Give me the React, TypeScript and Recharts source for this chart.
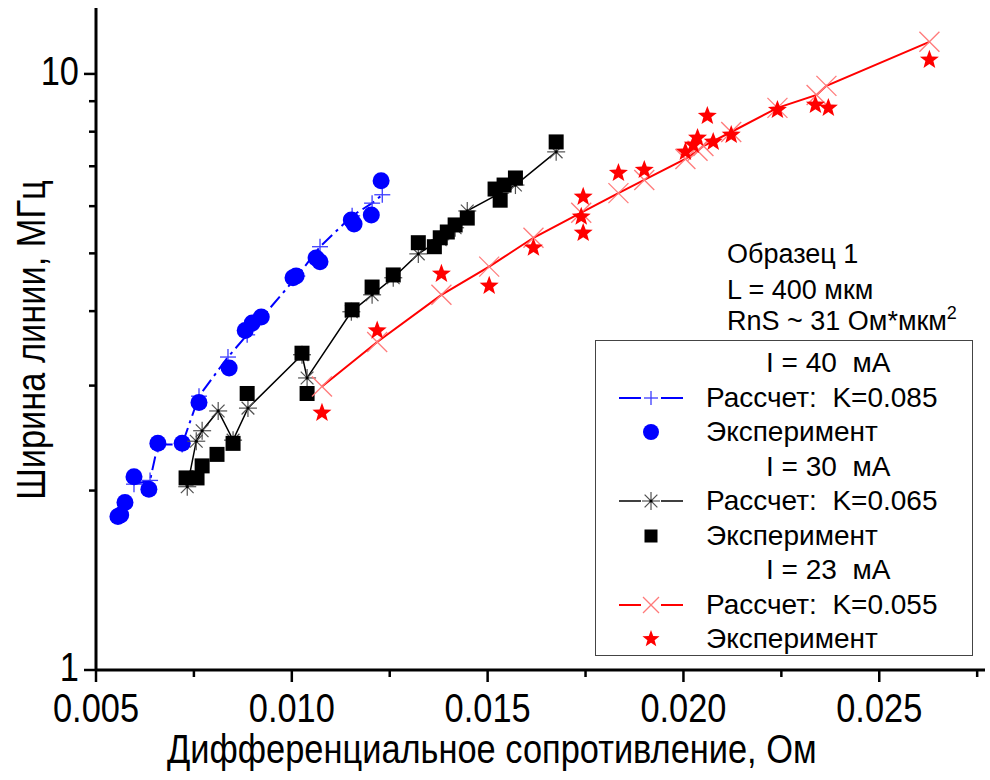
import React from 'react';
import { ScatterChart, Scatter, XAxis, YAxis } from 'recharts';

const FONT = '"Liberation Sans", Arial, sans-serif';
const NARROW = 0.86; // horizontal squeeze applied to axis text

// ---- I = 40 mA ----
const calc40X = [0.00597, 0.00638, 0.00658, 0.0072, 0.00763, 0.00837, 0.00886, 0.01014, 0.01072, 0.01154, 0.01205, 0.01231];
const calc40Y = [2.05, 2.08, 2.39, 2.39, 2.88, 3.35, 3.65, 4.58, 5.13, 5.78, 6.07, 6.27];
const exp40X = [0.00556, 0.00563, 0.00574, 0.00597, 0.00635, 0.00658, 0.0072, 0.00763, 0.0084, 0.00881, 0.00899, 0.00922, 0.01003, 0.01011, 0.01062, 0.01072, 0.01152, 0.01159, 0.01203, 0.01228];
const exp40Y = [1.81, 1.82, 1.91, 2.11, 2.01, 2.4, 2.4, 2.81, 3.21, 3.71, 3.82, 3.91, 4.55, 4.58, 4.91, 4.84, 5.69, 5.6, 5.8, 6.62];

// ---- I = 30 mA ----
const calc30X = [0.00733, 0.00756, 0.00771, 0.00812, 0.0085, 0.00888, 0.01026, 0.01039, 0.01152, 0.01205, 0.01259, 0.01323, 0.01379, 0.01417, 0.01448, 0.01532, 0.01571, 0.01675];
const calc30Y = [2.03, 2.42, 2.52, 2.72, 2.43, 2.75, 3.38, 3.09, 3.99, 4.26, 4.55, 4.99, 5.27, 5.52, 5.89, 6.31, 6.51, 7.4];
const exp30X = [0.0073, 0.00758, 0.00771, 0.00809, 0.0085, 0.00886, 0.01026, 0.01039, 0.01154, 0.01205, 0.01259, 0.01323, 0.01364, 0.01379, 0.01397, 0.01417, 0.01448, 0.01519, 0.01532, 0.01542, 0.01571, 0.01675];
const exp30Y = [2.1, 2.1, 2.2, 2.3, 2.4, 2.91, 3.4, 2.91, 4.02, 4.39, 4.6, 5.21, 5.13, 5.31, 5.43, 5.58, 5.73, 6.41, 6.14, 6.51, 6.69, 7.69];

// ---- I = 23 mA ----
const calc23X = [0.01077, 0.01218, 0.01382, 0.01504, 0.01617, 0.01739, 0.01834, 0.019, 0.02005, 0.02036, 0.02051, 0.02122, 0.0224, 0.0234, 0.02365, 0.02628];
const calc23Y = [2.99, 3.55, 4.26, 4.75, 5.31, 5.85, 6.31, 6.64, 7.2, 7.43, 7.57, 7.99, 8.77, 9.22, 9.55, 11.32];
const exp23X = [0.01077, 0.01218, 0.01382, 0.01504, 0.01617, 0.01739, 0.01744, 0.01744, 0.01834, 0.019, 0.02005, 0.02025, 0.02036, 0.02061, 0.02076, 0.02122, 0.0224, 0.02337, 0.0237, 0.02628];
const exp23Y = [2.7, 3.71, 4.62, 4.41, 5.11, 5.76, 6.22, 5.41, 6.82, 6.9, 7.4, 7.6, 7.81, 8.5, 7.69, 7.9, 8.7, 8.87, 8.77, 10.56];

// ---- axes ----
const X_TICKS = [0.005, 0.0075, 0.01, 0.0125, 0.015, 0.0175, 0.02, 0.0225, 0.025, 0.0275];
const X_MAJOR = [0.005, 0.01, 0.015, 0.02, 0.025];
const X_LABELS = ['0.005', '0.010', '0.015', '0.020', '0.025'];
const Y_TICKS = [1, 2, 3, 4, 5, 6, 7, 8, 9, 10];
const Y_MAJOR = [1, 10];
const Y_LABELS = ['1', '10'];

const zip = (xs: number[], ys: number[]) => xs.map((x, i) => ({ x, y: ys[i] }));

const BLUE = '#0000ff';
const BLUE_MARK = '#3c3cff';
const RED = '#ff0000';
const RED_MARK = '#ff7a7a';

function PlusMark({ cx, cy, s = 8 }: any) {
  return (
    <g stroke={BLUE_MARK} strokeWidth={1.3}>
      <line x1={cx - s} x2={cx + s} y1={cy} y2={cy} />
      <line x1={cx} x2={cx} y1={cy - s} y2={cy + s} />
    </g>
  );
}

function AsteriskMark({ cx, cy, s = 9 }: any) {
  const d = s * 0.707;
  return (
    <g stroke="#505050" strokeWidth={1.2}>
      <line x1={cx - s} x2={cx + s} y1={cy} y2={cy} />
      <line x1={cx} x2={cx} y1={cy - s} y2={cy + s} />
      <line x1={cx - d} x2={cx + d} y1={cy - d} y2={cy + d} />
      <line x1={cx - d} x2={cx + d} y1={cy + d} y2={cy - d} />
      <circle cx={cx} cy={cy} r={1.6} fill="#000" stroke="none" />
    </g>
  );
}

function CrossMark({ cx, cy, s = 10 }: any) {
  return (
    <g stroke={RED_MARK} strokeWidth={1.3}>
      <line x1={cx - s} x2={cx + s} y1={cy - s} y2={cy + s} />
      <line x1={cx - s} x2={cx + s} y1={cy + s} y2={cy - s} />
    </g>
  );
}

function DotMark({ cx, cy, r = 8.5 }: any) {
  return <circle cx={cx} cy={cy} r={r} fill={BLUE} />;
}

function SquareMark({ cx, cy, s = 7.5 }: any) {
  return <rect x={cx - s} y={cy - s} width={2 * s} height={2 * s} fill="#000" />;
}

function starPath(cx: number, cy: number, R: number) {
  const r = R * 0.42;
  const pts: string[] = [];
  for (let i = 0; i < 10; i++) {
    const rad = i % 2 === 0 ? R : r;
    const a = -Math.PI / 2 + (i * Math.PI) / 5;
    pts.push(`${(cx + rad * Math.cos(a)).toFixed(2)},${(cy + rad * Math.sin(a)).toFixed(2)}`);
  }
  return 'M' + pts.join('L') + 'Z';
}

function StarMark({ cx, cy, R = 10 }: any) {
  return <path d={starPath(cx, cy, R)} fill={RED} />;
}

function XTick(props: any) {
  const { x, y, payload } = props;
  const idx = X_MAJOR.findIndex((v) => Math.abs(v - payload.value) < 1e-9);
  const major = idx >= 0;
  return (
    <g>
      <line x1={x} x2={x} y1={y} y2={y + (major ? 12 : 7)} stroke="#000" strokeWidth={2.5} />
      {major && (
        <text
          transform={`translate(${x},${y + 52}) scale(${NARROW},1)`}
          textAnchor="middle"
          fontSize={40}
          fontFamily={FONT}
          fill="#000"
        >
          {X_LABELS[idx]}
        </text>
      )}
    </g>
  );
}

function YTick(props: any) {
  const { x, y, payload } = props;
  const idx = Y_MAJOR.findIndex((v) => Math.abs(v - payload.value) < 1e-9);
  const major = idx >= 0;
  return (
    <g>
      <line x1={x} x2={x - (major ? 12 : 7)} y1={y} y2={y} stroke="#000" strokeWidth={2.5} />
      {major && (
        <text
          transform={`translate(${x - 17},${y + 11}) scale(${NARROW},1)`}
          textAnchor="end"
          fontSize={40}
          fontFamily={FONT}
          fill="#000"
        >
          {Y_LABELS[idx]}
        </text>
      )}
    </g>
  );
}

const legendRows: { kind: string; text: string; icon?: React.ReactNode }[] = [
  { kind: 'head', text: 'I = 40  мА' },
  {
    kind: 'item',
    text: 'Рассчет:  K=0.085',
    icon: (
      <g>
        <line x1={0} x2={22} y1={10} y2={10} stroke={BLUE} strokeWidth={2} />
        <line x1={42} x2={64} y1={10} y2={10} stroke={BLUE} strokeWidth={2} />
        <PlusMark cx={32} cy={10} s={7} />
      </g>
    ),
  },
  { kind: 'item', text: 'Эксперимент', icon: <DotMark cx={32} cy={10} r={8} /> },
  { kind: 'head', text: 'I = 30  мА' },
  {
    kind: 'item',
    text: 'Рассчет:  K=0.065',
    icon: (
      <g>
        <line x1={0} x2={22} y1={10} y2={10} stroke="#000" strokeWidth={1.5} />
        <line x1={42} x2={64} y1={10} y2={10} stroke="#000" strokeWidth={1.5} />
        <AsteriskMark cx={32} cy={10} s={9} />
      </g>
    ),
  },
  { kind: 'item', text: 'Эксперимент', icon: <SquareMark cx={32} cy={10} s={6.5} /> },
  { kind: 'head', text: 'I = 23  мА' },
  {
    kind: 'item',
    text: 'Рассчет:  K=0.055',
    icon: (
      <g>
        <line x1={0} x2={22} y1={10} y2={10} stroke={RED} strokeWidth={2} />
        <line x1={42} x2={64} y1={10} y2={10} stroke={RED} strokeWidth={2} />
        <CrossMark cx={32} cy={10} s={8} />
      </g>
    ),
  },
  { kind: 'item', text: 'Эксперимент', icon: <StarMark cx={32} cy={10} R={9} /> },
];

function LegendBox() {
  const left = 595;
  const top = 340;
  const rowH = 34.5;
  return (
    <div
      style={{
        position: 'absolute',
        left,
        top,
        width: 378,
        height: 316,
        border: '1.5px solid #444',
        background: '#fff',
        boxSizing: 'border-box',
      }}
    >
      {legendRows.map((r, i) => {
        const cy = 22 + i * rowH;
        if (r.kind === 'head') {
          return (
            <div
              key={i}
              style={{
                position: 'absolute',
                left: 170,
                top: cy - 16,
                fontFamily: FONT,
                fontSize: 28,
                lineHeight: '32px',
                whiteSpace: 'pre',
                color: '#000',
              }}
            >
              {r.text}
            </div>
          );
        }
        return (
          <React.Fragment key={i}>
            <svg
              width={70}
              height={24}
              style={{ position: 'absolute', left: 23, top: cy - 10, overflow: 'visible' }}
            >
              {r.icon}
            </svg>
            <div
              style={{
                position: 'absolute',
                left: 110,
                top: cy - 16,
                fontFamily: FONT,
                fontSize: 28,
                lineHeight: '32px',
                whiteSpace: 'pre',
                color: '#000',
              }}
            >
              {r.text}
            </div>
          </React.Fragment>
        );
      })}
    </div>
  );
}

export default function App() {
  return (
    <div style={{ position: 'absolute', left: 0, top: 0, width: 990, height: 780, background: '#fff' }}>
      <ScatterChart width={990} height={780} margin={{ top: 8, right: 5, bottom: 0, left: 0 }}>
        <XAxis
          type="number"
          dataKey="x"
          domain={[0.005, 0.0277]}
          allowDataOverflow
          ticks={X_TICKS}
          interval={0}
          tick={<XTick />}
          tickLine={false}
          tickSize={0}
          tickMargin={0}
          height={110}
          axisLine={{ stroke: '#000', strokeWidth: 3 }}
        />
        <XAxis
          xAxisId="top"
          orientation="top"
          type="number"
          dataKey="x"
          domain={[0.005, 0.0277]}
          allowDataOverflow
          tick={false}
          tickLine={false}
          height={0}
          axisLine={{ stroke: '#000', strokeWidth: 3 }}
        />
        <YAxis
          type="number"
          dataKey="y"
          scale="log"
          domain={[1, 12.9]}
          allowDataOverflow
          ticks={Y_TICKS}
          interval={0}
          tick={<YTick />}
          tickLine={false}
          tickSize={0}
          tickMargin={0}
          width={96}
          axisLine={{ stroke: '#000', strokeWidth: 3 }}
        />
        <Scatter
          name="calc40"
          data={zip(calc40X, calc40Y)}
          line={{ stroke: BLUE, strokeWidth: 2, strokeDasharray: '14 5 3 5' }}
          lineType="joint"
          shape={(p: any) => <PlusMark cx={p.cx} cy={p.cy} />}
          isAnimationActive={false}
        />
        <Scatter
          name="exp40"
          data={zip(exp40X, exp40Y)}
          shape={(p: any) => <DotMark cx={p.cx} cy={p.cy} />}
          isAnimationActive={false}
        />
        <Scatter
          name="calc30"
          data={zip(calc30X, calc30Y)}
          line={{ stroke: '#000', strokeWidth: 1.5 }}
          lineType="joint"
          shape={(p: any) => <AsteriskMark cx={p.cx} cy={p.cy} />}
          isAnimationActive={false}
        />
        <Scatter
          name="exp30"
          data={zip(exp30X, exp30Y)}
          shape={(p: any) => <SquareMark cx={p.cx} cy={p.cy} />}
          isAnimationActive={false}
        />
        <Scatter
          name="calc23"
          data={zip(calc23X, calc23Y)}
          line={{ stroke: RED, strokeWidth: 2 }}
          lineType="joint"
          shape={(p: any) => <CrossMark cx={p.cx} cy={p.cy} />}
          isAnimationActive={false}
        />
        <Scatter
          name="exp23"
          data={zip(exp23X, exp23Y)}
          shape={(p: any) => <StarMark cx={p.cx} cy={p.cy} />}
          isAnimationActive={false}
        />
      </ScatterChart>

      <svg width={990} height={780} style={{ position: 'absolute', left: 0, top: 0, pointerEvents: 'none' }}>
        <text
          transform={`translate(167,763) scale(${NARROW},1)`}
          fontSize={40}
          fontFamily={FONT}
          fill="#000"
        >
          Дифференциальное сопротивление, Ом
        </text>
        <text
          transform={`translate(45,340) rotate(-90) scale(${NARROW},1)`}
          textAnchor="middle"
          fontSize={40}
          fontFamily={FONT}
          fill="#000"
        >
          Ширина линии, МГц
        </text>
        <text x={727} y={263} fontSize={27} fontFamily={FONT} fill="#000">Образец 1</text>
        <text x={727} y={299} fontSize={27} fontFamily={FONT} fill="#000">L = 400 мкм</text>
        <text x={727} y={330} fontSize={27} fontFamily={FONT} fill="#000">
          RnS ~ 31 Ом*мкм
          <tspan dy={-11} fontSize={18}>2</tspan>
        </text>
      </svg>

      <LegendBox />
    </div>
  );
}
